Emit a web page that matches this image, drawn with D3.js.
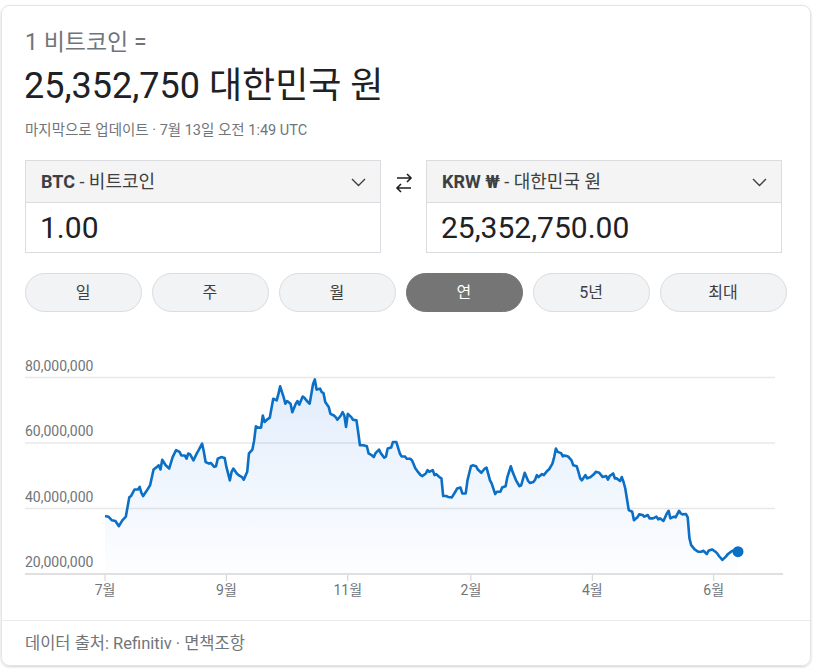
<!DOCTYPE html>
<html>
<head>
<meta charset="utf-8">
<script src="https://cdn.jsdelivr.net/npm/d3@7"></script>
<style>
  body { margin: 0; background: #fff; }
  text { font-family: Roboto, Arial, "Noto Sans CJK KR", sans-serif; }
</style>
</head>
<body>
<script>
var w = 816, h = 671;

// days since 2021-07-13, price in million KRW
var days = [0,2,4,6,8,10,12,14,15,17,19,20,21,22,24,26,28,30,31,32,33,35,37,39,41,43,44,46,47,48,49,51,53,54,56,57,58,60,61,63,64,65,67,69,70,72,73,74,76,77,79,80,82,83,85,86,87,88,90,91,92,94,95,
  97,99,100,101,103,104,105,107,108,110,111,112,114,115,117,118,120,121,122,124,125,126,127,129,130,132,133,134,136,137,138,139,140,142,143,145,146,147,149,151,152,154,155,156,158,159,161,162,163,165,166,168,170,171,173,174,176,177,179,180,182,183,185,186,187,189,190,191,193,194,195,
  197,198,200,202,203,205,206,208,209,211,212,214,215,217,219,220,222,223,225,226,228,229,231,232,234,235,237,239,240,242,244,245,247,248,249,250,252,253,255,256,258,259,260,261,263,264,265,267,269,270,272,273,274,275,277,278,280,282,283,285,
  287,289,290,291,293,294,295,297,298,299,300,301,302,304,305,307,308,310,311,313,314,316,318,319,320,322,324,325,326,328,329,331,332,333,335,336,337,338,340,342,344,345,347,348,350,352,353,354,356,358,359,361,362,365];
var prices = [37.7,37.5,36.4,36.2,34.6,36.4,37.5,43.4,43.8,45.8,45.8,46.6,44.8,43.8,45.4,47.1,51.9,52.7,53.2,51.9,54.9,53.2,52.2,55.7,57.8,57.3,56.2,56.2,55.2,56.8,56.6,54.7,56.9,57.8,59.8,57.3,54.2,53.7,53.9,52.7,52.9,55.2,55.7,55.4,52.7,48.6,51.2,52.2,50.7,50.2,49.6,48.8,51.2,56.8,58.0,60.8,65.1,64.7,64.7,68.4,66.4,67.4,67.7,
  73.5,73.0,75.0,77.3,74.0,72.0,72.8,72.0,69.4,72.0,72.8,71.7,74.2,73.8,72.5,72.0,78.1,79.4,76.3,76.6,75.5,75.2,72.5,71.0,68.9,68.4,67.9,67.1,68.4,69.4,68.4,64.9,68.9,67.9,67.1,66.9,63.3,59.3,59.3,59.0,56.8,56.2,55.7,56.9,58.0,56.9,55.5,55.9,58.3,58.6,60.3,60.3,56.8,55.9,55.9,55.2,55.2,54.7,52.2,51.5,50.2,49.9,50.7,51.7,51.2,51.7,50.2,50.5,49.5,49.2,43.8,
  43.8,43.5,43.4,45.1,46.1,46.4,44.6,44.6,48.6,52.9,53.2,52.9,51.9,50.9,52.2,52.5,48.6,47.6,44.4,45.1,45.1,46.4,46.8,49.6,52.9,51.2,48.6,46.8,47.1,50.9,48.4,47.8,48.1,48.8,50.2,49.6,50.5,50.2,51.5,51.9,53.7,55.7,58.3,57.3,56.9,55.9,56.2,55.9,54.7,53.2,52.9,51.2,49.2,48.6,50.2,49.2,49.6,50.5,51.2,50.9,
  49.6,49.9,48.8,49.9,50.7,49.2,49.2,48.4,49.6,48.1,46.1,42.8,39.5,39.0,36.4,37.3,38.2,38.0,37.5,38.0,37.0,37.0,37.5,36.7,37.0,36.2,38.5,39.3,37.0,37.5,37.3,39.3,38.5,38.2,38.3,37.3,30.9,28.8,27.5,26.8,26.8,27.1,26.1,27.1,27.5,26.8,26.3,25.5,24.3,25.3,26.0,26.8,27.1,26.8];

var yTicks = [20000000, 40000000, 60000000, 80000000];
var xTickDays = [0, 70, 140, 211, 281, 351];
var xTickLabels = ["7월", "9월", "11월", "2월", "4월", "6월"];
var ranges = ["일", "주", "월", "연", "5년", "최대"];
var activeRange = "연";

var data = days.map(function(d, i) { return {day: d, price: prices[i] * 1e6}; });

var svg = d3.select("body").append("svg")
  .attr("width", w)
  .attr("height", h);

var defs = svg.append("defs");
var shadow = defs.append("filter").attr("id", "shadow")
  .attr("x", "-5%").attr("y", "-5%").attr("width", "110%").attr("height", "110%");
shadow.append("feDropShadow").attr("dx", 0).attr("dy", 1).attr("stdDeviation", 1.2)
  .attr("flood-color", "#000").attr("flood-opacity", 0.18);

var grad = defs.append("linearGradient").attr("id", "areaFill")
  .attr("x1", 0).attr("y1", 0).attr("x2", 0).attr("y2", 1);
grad.append("stop").attr("offset", "0%").attr("stop-color", "#1a73e8").attr("stop-opacity", 0.13);
grad.append("stop").attr("offset", "100%").attr("stop-color", "#1a73e8").attr("stop-opacity", 0.01);

// card
svg.append("rect")
  .attr("x", 1.5).attr("y", 5.5).attr("width", 809).attr("height", 660)
  .attr("rx", 8)
  .style("fill", "#fff")
  .style("stroke", "#e4e4e4")
  .attr("filter", "url(#shadow)");

// header
svg.append("text").attr("x", 25).attr("y", 42).attr("dy", "0.35em")
  .style("font-size", "23px").style("fill", "#70757a")
  .text("1 비트코인 =");
svg.append("text").attr("x", 24).attr("y", 85).attr("dy", "0.35em")
  .style("font-size", "36px").style("fill", "#202124")
  .text("25,352,750 대한민국 원");
svg.append("text").attr("x", 25).attr("y", 130).attr("dy", "0.35em")
  .style("font-size", "14.5px").style("fill", "#70757a")
  .text("마지막으로 업데이트 · 7월 13일 오전 1:49 UTC");

// currency boxes
function box(x, code, name, value) {
  var g = svg.append("g").attr("transform", "translate(" + x + ",160)");
  g.append("rect").attr("x", 0.5).attr("y", 0.5).attr("width", 355).attr("height", 92)
    .style("fill", "#fff").style("stroke", "#dadce0");
  g.append("rect").attr("x", 1).attr("y", 1).attr("width", 354).attr("height", 41)
    .style("fill", "#f4f4f4");
  g.append("line").attr("x1", 1).attr("x2", 355).attr("y1", 42.5).attr("y2", 42.5)
    .style("stroke", "#dadce0");
  var t = g.append("text").attr("x", 16).attr("y", 22).attr("dy", "0.35em")
    .style("font-size", "18px").style("fill", "#3c4043");
  t.append("tspan").style("font-weight", "bold").text(code);
  t.append("tspan").text(" - " + name);
  g.append("path").attr("d", "M327,19 L333.5,25.5 L340,19")
    .style("fill", "none").style("stroke", "#3c4043").style("stroke-width", 1.4);
  g.append("text").attr("x", 15).attr("y", 67).attr("dy", "0.35em")
    .style("font-size", "30px").style("fill", "#202124")
    .text(value);
}
box(25, "BTC", "비트코인", "1.00");
box(426, "KRW ₩", "대한민국 원", "25,352,750.00");

// swap arrows
svg.append("path")
  .attr("d", "M397,178 H411 M407,174 L411,178 L407,182 M411,188 H397 M401,184 L397,188 L401,192")
  .style("fill", "none").style("stroke", "#202124").style("stroke-width", 1.6);

// range buttons (last one is a little wider)
var bx = d3.scaleBand().domain(ranges).range([25, 776]).paddingInner(0.0866);
var btn = svg.append("g").selectAll("g").data(ranges).enter().append("g")
  .attr("transform", function(d) { return "translate(" + bx(d) + ",273)"; });
btn.append("rect")
  .attr("x", 0.5).attr("y", 0.5)
  .attr("width", function(d, i) { return bx.bandwidth() + (i == ranges.length - 1 ? 10 : 0); })
  .attr("height", 38).attr("rx", 19)
  .style("fill", function(d) { return d == activeRange ? "#757575" : "#f1f3f4"; })
  .style("stroke", function(d) { return d == activeRange ? "#757575" : "#dadce0"; });
btn.append("text")
  .attr("x", function(d, i) { return (bx.bandwidth() + (i == ranges.length - 1 ? 10 : 0)) / 2; })
  .attr("y", 19.5).attr("dy", "0.35em")
  .attr("text-anchor", "middle")
  .style("font-size", "16px")
  .style("fill", function(d) { return d == activeRange ? "#fff" : "#3c4043"; })
  .text(function(d) { return d; });

// chart
var x = d3.scaleLinear().domain([0, 365]).range([105, 738]);
var y = d3.scaleLinear().domain([20000000, 80000000]).range([574, 377.5]);

var grid = svg.append("g");
grid.selectAll("line").data(yTicks.slice(1)).enter().append("line")
  .attr("x1", 25).attr("x2", 775)
  .attr("y1", function(d) { return y(d); }).attr("y2", function(d) { return y(d); })
  .style("stroke", "#e8e8e8").style("stroke-width", 1.3);
grid.selectAll("text").data(yTicks).enter().append("text")
  .attr("x", 25).attr("y", function(d) { return y(d) - 11.5; }).attr("dy", "0.35em")
  .style("font-size", "14px").style("fill", "#70757a")
  .text(d3.format(","));

var area = d3.area()
  .x(function(d) { return x(d.day); })
  .y0(y(20000000))
  .y1(function(d) { return y(d.price); });
var line = d3.line()
  .x(function(d) { return x(d.day); })
  .y(function(d) { return y(d.price); });

svg.append("path").datum(data).attr("d", area)
  .style("fill", "url(#areaFill)");

// x axis
var xAxis = svg.append("g").attr("transform", "translate(0,574)");
xAxis.append("line").attr("x1", 25).attr("x2", 783)
  .style("stroke", "#e0e0e0").style("stroke-width", 2);
xAxis.selectAll(".tick").data(xTickDays).enter().append("line")
  .attr("x1", function(d) { return x(d); }).attr("x2", function(d) { return x(d); })
  .attr("y1", 1).attr("y2", 7)
  .style("stroke", "#d0d0d0");
xAxis.selectAll("text").data(xTickDays).enter().append("text")
  .attr("x", function(d) { return x(d); }).attr("y", 16).attr("dy", "0.35em")
  .attr("text-anchor", "middle")
  .style("font-size", "14px").style("fill", "#70757a")
  .text(function(d, i) { return xTickLabels[i]; });

svg.append("path").datum(data).attr("d", line)
  .style("fill", "none")
  .style("stroke", "#0b6fc6")
  .style("stroke-width", 2.6)
  .style("stroke-linejoin", "round");

var last = data[data.length - 1];
svg.append("circle")
  .attr("cx", x(last.day)).attr("cy", y(last.price)).attr("r", 5.5)
  .style("fill", "#0b6fc6");

// footer
svg.append("line").attr("x1", 2).attr("x2", 810).attr("y1", 620.5).attr("y2", 620.5)
  .style("stroke", "#e8eaed");
svg.append("text").attr("x", 25).attr("y", 643).attr("dy", "0.35em")
  .style("font-size", "16.5px").style("fill", "#70757a")
  .text("데이터 출처: Refinitiv · 면책조항");
</script>
</body>
</html>
